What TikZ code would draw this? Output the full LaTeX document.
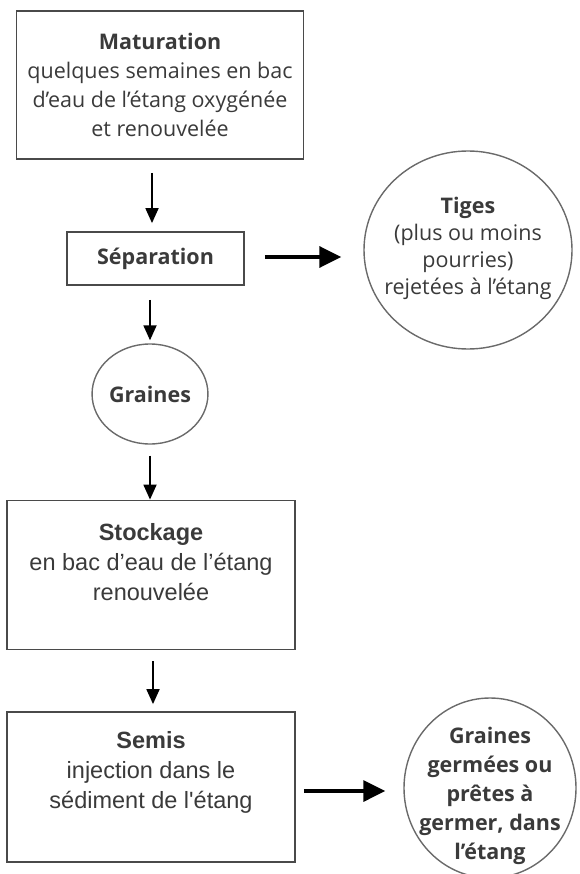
\documentclass[tikz,border=0pt]{standalone}
\usepackage{fontspec}
\setmainfont{Open Sans}
\newfontfamily\arialf{Liberation Sans}
\usetikzlibrary{shapes.geometric,arrows.meta}
\definecolor{boxline}{HTML}{4A4A4A}
\definecolor{circline}{HTML}{6A6A6A}
\definecolor{txt}{HTML}{3A3A3A}
\begin{document}
\begin{tikzpicture}[x=1pt,y=-1pt,
  box/.style={draw=boxline,line width=1.8pt,rectangle,inner sep=0pt},
  ring/.style={draw=circline,line width=1.4pt,ellipse,inner sep=0pt},
  osans/.style={font=\fontsize{21.5}{29}\selectfont,text=txt,align=center},
  osmall/.style={font=\fontsize{21.5}{27}\selectfont,text=txt,align=center},
  arialtxt/.style={font=\arialf\fontsize{23.5}{30}\selectfont,text=txt,align=center},
  varrow/.style={line width=1.8pt,-{Triangle[length=15pt,width=13pt]}},
  harrow/.style={line width=3.4pt,-{Triangle[length=22pt,width=21pt]}}
]
\useasboundingbox (0,0) rectangle (579,874);
% boxes
\node[box,minimum width=287pt,minimum height=148pt,osans] (mat) at (160,85)
  {\textbf{Maturation}\\quelques semaines en bac\\d'eau de l'étang oxygénée\\et renouvelée};
\node[box,minimum width=177pt,minimum height=53pt,osans] (sep) at (155.5,258.5) {\textbf{Séparation}};
\node[ring,minimum width=208pt,minimum height=198pt] (tig) at (468,250) {};
\node[osmall] (tigt) at (468,248) {\textbf{Tiges}\\(plus ou moins\\pourries)\\rejetées à l'étang};
\node[ring,minimum width=104pt,minimum height=100pt,osans] (gra) at (150,394) {\textbf{Graines}};
\node[box,minimum width=288pt,minimum height=149pt] (sto) at (151,575) {};
\node[arialtxt] (stot) at (151,562) {\textbf{Stockage}\\en bac d’eau de l’étang\\renouvelée};
\node[box,minimum width=288pt,minimum height=150pt] (sem) at (151,787) {};
\node[arialtxt] (semt) at (151,772) {\textbf{Semis}\\injection dans le\\sédiment de l'étang};
\node[ring,minimum width=172pt,minimum height=180pt] (fin) at (490,788) {};
\node[osans] (fint) at (490,796) {\textbf{Graines}\\\textbf{germées ou}\\\textbf{prêtes à}\\\textbf{germer, dans}\\\textbf{l'étang}};
% arrows
\draw[varrow,shorten <=13pt,shorten >=8pt] ([xshift=-8pt]mat.south) -- ([xshift=-3.5pt]sep.north);
\draw[varrow,shorten <=14pt,shorten >=3pt] ([xshift=-5.5pt]sep.south) -- (gra.north);
\draw[varrow,shorten <=11pt,shorten >=0pt] (gra.south) -- ([xshift=-1pt]sto.north);
\draw[varrow,shorten <=11pt,shorten >=7pt] ([xshift=2pt]sto.south) -- ([xshift=2pt]sem.north);
\draw[harrow,shorten <=20pt,shorten >=22pt] (sep.east |- 0,257) -- (tig.west |- 0,257);
\draw[harrow,shorten <=8pt,shorten >=18pt] (sem.east |- 0,791) -- (fin.west |- 0,791);
\end{tikzpicture}
\end{document}
